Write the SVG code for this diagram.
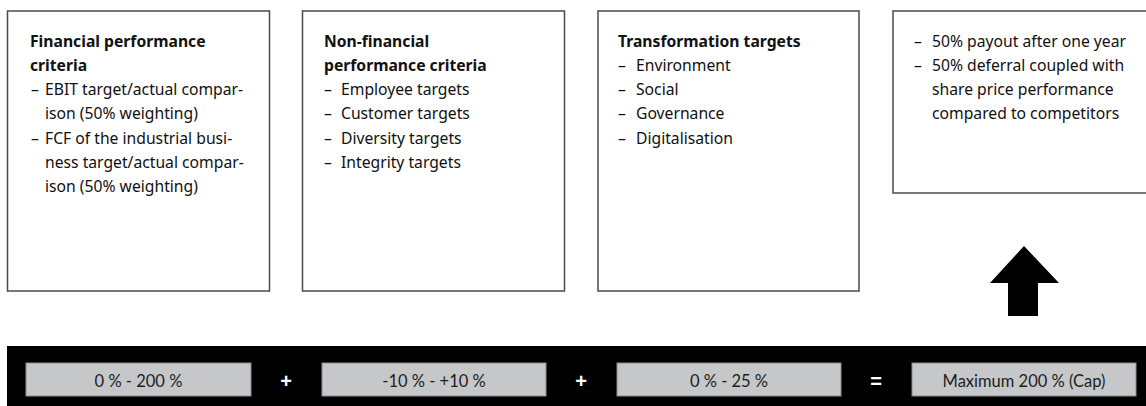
<svg xmlns="http://www.w3.org/2000/svg" width="1146" height="406" viewBox="0 0 1146 406">
  <style>
    .card { fill: #ffffff; stroke: #4a4a4a; stroke-width: 1.5; }
    .t { font-family: "Noto Sans", "Liberation Sans", sans-serif; font-size: 15.7px; fill: #111111; }
    .b { font-weight: bold; }
    .pill { fill: #c5c7c9; stroke: #8a8c8e; stroke-width: 1; }
    .pt { font-family: Lato, "Liberation Sans", sans-serif; font-size: 16.5px; fill: #1e1e1e; text-anchor: middle; }
    .op { font-family: "Liberation Sans", sans-serif; font-size: 20px; font-weight: bold; fill: #ffffff; text-anchor: middle; }
  </style>
  <rect width="1146" height="406" fill="#ffffff"/>

  <g id="financial">
    <rect class="card" x="7.5" y="11" width="262" height="280"/>
    <text class="t b" x="30" y="47">Financial performance</text>
    <text class="t b" x="30" y="71">criteria</text>
    <text class="t" x="31" y="95">–</text><text class="t" x="45" y="95">EBIT target/actual compar-</text>
    <text class="t" x="45" y="119">ison (50% weighting)</text>
    <text class="t" x="31" y="144">–</text><text class="t" x="45" y="144">FCF of the industrial busi-</text>
    <text class="t" x="45" y="168">ness target/actual compar-</text>
    <text class="t" x="45" y="192">ison (50% weighting)</text>
  </g>

  <g id="nonfinancial">
    <rect class="card" x="302.5" y="11" width="262" height="280"/>
    <text class="t b" x="324" y="47">Non-financial</text>
    <text class="t b" x="324" y="71">performance criteria</text>
    <text class="t" x="324" y="95">–</text><text class="t" x="341" y="95">Employee targets</text>
    <text class="t" x="324" y="119">–</text><text class="t" x="341" y="119">Customer targets</text>
    <text class="t" x="324" y="144">–</text><text class="t" x="341" y="144">Diversity targets</text>
    <text class="t" x="324" y="168">–</text><text class="t" x="341" y="168">Integrity targets</text>
  </g>

  <g id="transformation">
    <rect class="card" x="598" y="11" width="261" height="280"/>
    <text class="t b" x="618" y="47">Transformation targets</text>
    <text class="t" x="618" y="71">–</text><text class="t" x="636" y="71">Environment</text>
    <text class="t" x="618" y="95">–</text><text class="t" x="636" y="95">Social</text>
    <text class="t" x="618" y="119">–</text><text class="t" x="636" y="119">Governance</text>
    <text class="t" x="618" y="144">–</text><text class="t" x="636" y="144">Digitalisation</text>
  </g>

  <g id="payout">
    <rect class="card" x="893" y="11" width="260" height="182"/>
    <text class="t" x="914" y="47">–</text><text class="t" x="932" y="47">50% payout after one year</text>
    <text class="t" x="914" y="71">–</text><text class="t" x="932" y="71">50% deferral coupled with</text>
    <text class="t" x="932" y="95">share price performance</text>
    <text class="t" x="932" y="119">compared to competitors</text>
  </g>

  <g id="connectors">
    <polygon points="1024,246 1059,283 1038,283 1038,316 1008,316 1008,283 990,283" fill="#000000"/>
  </g>

  <g id="formula">
    <rect x="7" y="346" width="1145" height="64" fill="#000000"/>
    <rect class="pill" x="26" y="363" width="225" height="33"/>
    <text class="pt" x="138.5" y="387">0 % - 200 %</text>
    <text class="op" x="286" y="388">+</text>
    <rect class="pill" x="322" y="363" width="224" height="33"/>
    <text class="pt" x="434" y="387">-10 % - +10 %</text>
    <text class="op" x="581" y="388">+</text>
    <rect class="pill" x="617" y="363" width="224" height="33"/>
    <text class="pt" x="729" y="387">0 % - 25 %</text>
    <text class="op" x="876" y="388">=</text>
    <rect class="pill" x="912" y="363" width="224" height="33"/>
    <text class="pt" x="1024" y="387">Maximum 200 % (Cap)</text>
  </g>
</svg>
